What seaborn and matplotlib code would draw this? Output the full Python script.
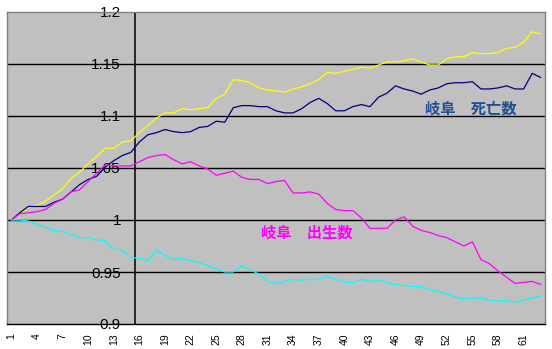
import matplotlib
matplotlib.use("Agg")
import matplotlib.pyplot as plt
import numpy as np
import pandas as pd
import seaborn as sns

# Category index (1..63) on the horizontal axis
categories = list(range(1, 64))
xtick_labels = list(range(1, 62, 3))
ytick_values = [0.9, 0.95, 1.0, 1.05, 1.1, 1.15, 1.2]
ytick_labels = ["0.9", "0.95", "1", "1.05", "1.1", "1.15", "1.2"]

yellow_series = [
    1.000, 1.006, 1.012, 1.014, 1.018, 1.024, 1.030, 1.040, 1.046, 1.054,
    1.061, 1.069, 1.069, 1.075, 1.076, 1.084, 1.091, 1.098, 1.103, 1.103,
    1.107, 1.106, 1.107, 1.108, 1.117, 1.121, 1.135, 1.134, 1.132, 1.127,
    1.125, 1.124, 1.123, 1.126, 1.128, 1.131, 1.135, 1.142, 1.141, 1.143,
    1.145, 1.147, 1.146, 1.149, 1.152, 1.152, 1.153, 1.155, 1.152, 1.149,
    1.149, 1.155, 1.157, 1.157, 1.161, 1.160, 1.160, 1.161, 1.165, 1.166,
    1.171, 1.181, 1.179,
]
deaths_gifu = [
    1.000, 1.007, 1.013, 1.013, 1.013, 1.017, 1.020, 1.027, 1.034, 1.039,
    1.042, 1.051, 1.057, 1.062, 1.065, 1.075, 1.082, 1.084, 1.087, 1.085,
    1.084, 1.085, 1.089, 1.090, 1.095, 1.094, 1.108, 1.110, 1.110, 1.109,
    1.109, 1.105, 1.103, 1.103, 1.107, 1.113, 1.117, 1.112, 1.105, 1.105,
    1.109, 1.111, 1.109, 1.118, 1.122, 1.129, 1.126, 1.124, 1.121, 1.125,
    1.127, 1.131, 1.132, 1.132, 1.133, 1.126, 1.126, 1.127, 1.129, 1.126,
    1.126, 1.141, 1.137,
]
births_gifu = [
    1.000, 1.006, 1.007, 1.008, 1.010, 1.016, 1.020, 1.027, 1.029, 1.037,
    1.045, 1.053, 1.052, 1.052, 1.052, 1.056, 1.060, 1.062, 1.063, 1.058,
    1.054, 1.056, 1.052, 1.049, 1.043, 1.045, 1.047, 1.041, 1.039, 1.039,
    1.035, 1.037, 1.038, 1.026, 1.026, 1.027, 1.025, 1.016, 1.010, 1.009,
    1.009, 1.002, 0.992, 0.992, 0.992, 1.000, 1.003, 0.994, 0.990, 0.988,
    0.985, 0.983, 0.979, 0.975, 0.979, 0.962, 0.958, 0.951, 0.945, 0.939,
    0.940, 0.941, 0.938,
]
cyan_series = [
    1.000, 1.000, 0.999, 0.996, 0.993, 0.990, 0.989, 0.986, 0.983, 0.983,
    0.981, 0.980, 0.972, 0.971, 0.964, 0.963, 0.961, 0.971, 0.966, 0.962,
    0.963, 0.961, 0.959, 0.956, 0.953, 0.950, 0.950, 0.956, 0.952, 0.948,
    0.941, 0.939, 0.941, 0.943, 0.942, 0.943, 0.943, 0.946, 0.943, 0.940,
    0.940, 0.943, 0.941, 0.942, 0.940, 0.938, 0.937, 0.936, 0.936, 0.933,
    0.931, 0.929, 0.926, 0.924, 0.925, 0.925, 0.923, 0.922, 0.923, 0.921,
    0.923, 0.925, 0.927,
]

series_names = ["yellow", "deaths", "births", "cyan"]
series_colors = ["#ffff00", "#000080", "#ff00ff", "#00ffff"]

df = pd.DataFrame({
    "cat": categories * 4,
    "value": yellow_series + deaths_gifu + births_gifu + cyan_series,
    "series": np.repeat(series_names, len(categories)),
})

sns.set_style("white")
plt.rcParams["font.family"] = ["Liberation Sans", "DejaVu Sans"]

fig = plt.figure(figsize=(5.52, 3.49), dpi=100)
ax = fig.add_axes([7 / 552, 25 / 349, 538 / 552, 312 / 349])
ax.set_facecolor("#c0c0c0")

sns.lineplot(data=df, x="cat", y="value", hue="series",
             palette=dict(zip(series_names, series_colors)),
             hue_order=series_names, linewidth=0.9, legend=False,
             ax=ax, zorder=3)

ax.set_xlim(0.5, 63.5)
ax.set_ylim(0.9, 1.2)
ax.set_xlabel("")
ax.set_ylabel("")

# horizontal gridlines (inner ones only; top edge is the frame)
for v in ytick_values[1:-1]:
    ax.axhline(v, color="black", lw=1.0, zorder=2)
# vertical value axis crossing between categories 15 and 16
ax.plot([15.5, 15.5], [0, 1], color="black", lw=1.1, zorder=2.5,
        transform=ax.get_xaxis_transform(), solid_capstyle="butt")

# x axis: labels at every third category, small ticks at category borders
ax.set_xticks(xtick_labels)
ax.set_xticklabels([str(v) for v in xtick_labels], rotation=90,
                   fontsize=7.5)
ax.set_xticks(np.arange(0.5, 64, 1.0), minor=True)
ax.tick_params(axis="x", which="major", length=0, pad=6.5,
               colors="black")
ax.tick_params(axis="x", which="minor", length=2.5, width=0.8,
               color="black", direction="out")

# y axis labels sit just left of the crossing value axis
ax.set_yticks(ytick_values)
ax.set_yticklabels(ytick_labels,
                   family=["Liberation Sans Narrow", "Liberation Sans"],
                   fontsize=11)
ax.tick_params(axis="y", which="major", length=0, pad=-82,
               colors="black")

for side in ["top", "left", "right"]:
    ax.spines[side].set_color("#808080")
    ax.spines[side].set_linewidth(1.0)
ax.spines["bottom"].set_color("black")
ax.spines["bottom"].set_linewidth(1.0)

ax.text(49.4, 1.107, "岐阜　死亡数", color="#1f4e96", fontsize=11,
        fontweight="bold", family=["Noto Sans CJK JP", "DejaVu Sans"],
        ha="left", va="center", zorder=4)
ax.text(30.3, 0.9883, "岐阜　出生数", color="#ff00ff", fontsize=11,
        fontweight="bold", family=["Noto Sans CJK JP", "DejaVu Sans"],
        ha="left", va="center", zorder=4)

fig.savefig("out.png", dpi=100, facecolor="white")
